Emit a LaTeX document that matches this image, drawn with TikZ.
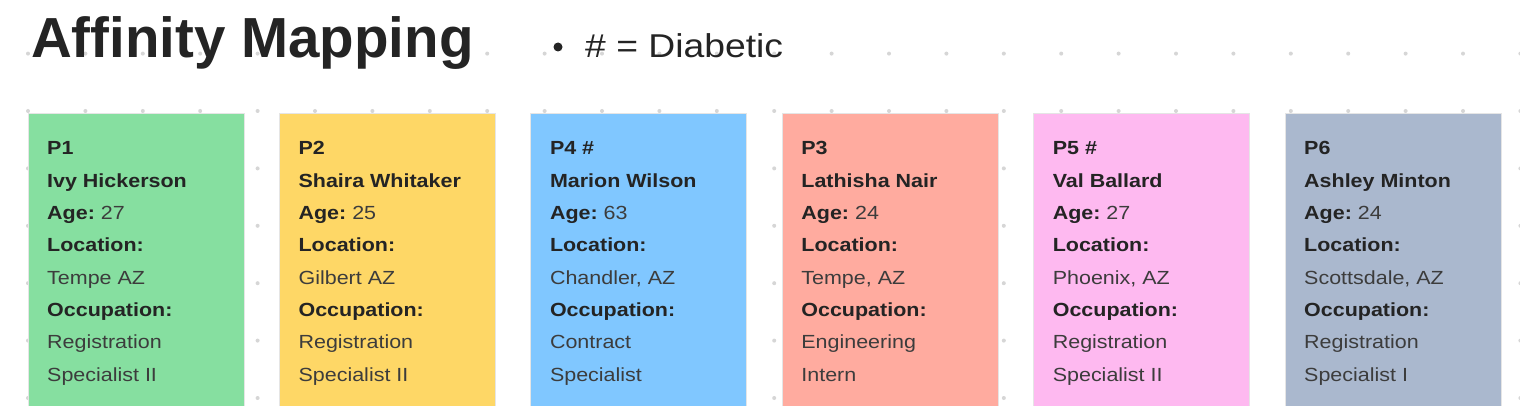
\documentclass[tikz,border=0pt]{standalone}
\usepackage{fontspec}
\setmainfont{Liberation Sans}[FakeStretch=1.13]
\newfontfamily\titlefont{Liberation Sans}
\definecolor{dotc}{HTML}{D6D6D6}
\definecolor{txtb}{HTML}{242424}
\definecolor{txtr}{HTML}{3C3C3C}
\definecolor{cgreen}{HTML}{86DFA0}
\definecolor{cyellow}{HTML}{FED766}
\definecolor{cblue}{HTML}{80C7FF}
\definecolor{csalmon}{HTML}{FFAB9F}
\definecolor{cpink}{HTML}{FEB9F0}
\definecolor{cgrey}{HTML}{AAB8CE}
\tikzset{
  cardbox/.style={rectangle, draw=black!10, line width=0.6pt, minimum width=216pt, minimum height=300pt, anchor=north west, inner sep=0pt},
  lbl/.style={anchor=base west, inner sep=0pt, text=txtb, font=\fontsize{19}{23}\selectfont},
  title/.style={anchor=base west, inner sep=0pt, text=txtb, font=\titlefont\fontsize{56.5}{64}\selectfont\bfseries},
  legend/.style={anchor=base west, inner sep=0pt, text=txtb, font=\fontsize{33}{40}\selectfont}
}
\newcommand\personcard[9]{%
  \node[cardbox, fill=#3] (card#1) at (#2,113) {};
  \node[lbl] (card#1-a) at (#2+19.5,155) {\bfseries #4};
  \node[lbl] (card#1-b) at (#2+19.5,187.3) {\bfseries #5};
  \node[lbl] (card#1-c) at (#2+19.5,219.6) {\textbf{Age:}~\textcolor{txtr}{#6}};
  \node[lbl] (card#1-d) at (#2+19.5,251.9) {\bfseries Location:};
  \node[lbl, text=txtr] (card#1-e) at (#2+19.5,284.2) {#7};
  \node[lbl] (card#1-f) at (#2+19.5,316.5) {\bfseries Occupation:};
  \node[lbl, text=txtr] (card#1-g) at (#2+19.5,348.8) {#8};
  \node[lbl, text=txtr] (card#1-h) at (#2+19.5,381.1) {#9};
}
\begin{document}
\begin{tikzpicture}[x=1pt,y=-1pt]
\useasboundingbox (0,0) rectangle (1520,406);
\fill[white] (0,0) rectangle (1520,406);
\clip (0,0) rectangle (1520,406);
\foreach \i in {0,...,26}{
  \foreach \j in {0,...,7}{
    \fill[dotc] (28+57.4*\i,-3.8+57.4*\j) circle[radius=2pt];
  }
}
\node[title] (ttl) at (31,58) {Affinity Mapping};
\fill[txtb] (558,47) circle[radius=4.5pt];
\coordinate (bul) at (558,47);
\node[legend] (leg) at (585,58) {\# = Diabetic};
\personcard{1}{27.5}{cgreen}{P1}{Ivy Hickerson}{27}{Tempe AZ}{Registration}{Specialist II}
\personcard{2}{278.9}{cyellow}{P2}{Shaira Whitaker}{25}{Gilbert AZ}{Registration}{Specialist II}
\personcard{3}{530.3}{cblue}{P4 \#}{Marion Wilson}{63}{Chandler, AZ}{Contract}{Specialist}
\personcard{4}{781.7}{csalmon}{P3}{Lathisha Nair}{24}{Tempe, AZ}{Engineering}{Intern}
\personcard{5}{1033.1}{cpink}{P5 \#}{Val Ballard}{27}{Phoenix, AZ}{Registration}{Specialist II}
\personcard{6}{1284.5}{cgrey}{P6}{Ashley Minton}{24}{Scottsdale, AZ}{Registration}{Specialist I}
\end{tikzpicture}
\end{document}
